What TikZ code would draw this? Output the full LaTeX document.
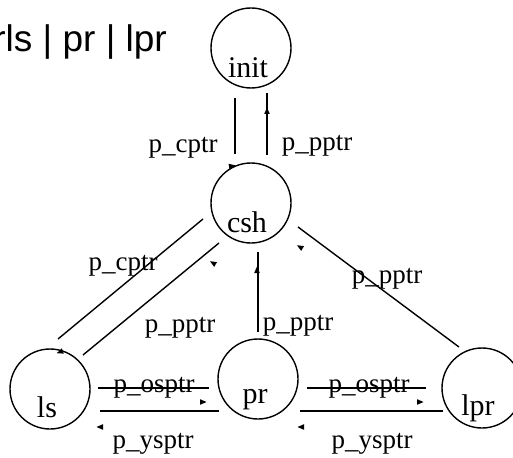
\documentclass[tikz,border=0pt]{standalone}
\usepackage{fontspec}
\setmainfont{Liberation Serif}
\newfontfamily\titlefont{Liberation Sans}
\begin{document}
\begin{tikzpicture}[x=1pt,y=-1pt,
  state/.style={circle,draw,line width=1.4pt,minimum size=80pt,inner sep=0pt},
  conn/.style={line width=1.4pt},
  lbl/.style={font=\fontsize{27}{29}\selectfont,inner sep=0pt,anchor=base},
  stxt/.style={font=\fontsize{30}{32}\selectfont,inner sep=0pt},
  ah/.pic={\fill (3.5,0) -- (-3,2.8) -- (-3,-2.8) -- cycle;}]
\useasboundingbox (0,0) rectangle (513,457);
% title
\node[anchor=base east,inner sep=0pt,font=\titlefont\fontsize{37}{40}\selectfont] (title) at (167,52) {rls | pr | lpr};
% states
\node[state] (init) at (251,48) {};
\node[stxt] (initt) at (248,68) {init};
\node[state] (csh) at (251,203) {};
\node[stxt] (csht) at (247,222) {csh};
\node[state] (ls) at (50,389) {};
\node[stxt] (lst) at (47,407) {ls};
\node[state] (pr) at (258,379) {};
\node[stxt] (prt) at (255,400) {pr};
\node[state] (lpr) at (482,388) {};
\node[stxt] (lprt) at (478,408) {lpr};
% connector end points
\coordinate (a1) at (235,98);  \coordinate (a2) at (235,154);
\coordinate (b1) at (267,155); \coordinate (b2) at (267,93);
\coordinate (c1) at (203,219); \coordinate (c2) at (58,339);
\coordinate (d1) at (83,355);  \coordinate (d2) at (219,243);
\coordinate (e1) at (258,332); \coordinate (e2) at (258,252);
\coordinate (f1) at (459,347); \coordinate (f2) at (298,227);
\coordinate (g1) at (98,388);  \coordinate (g2) at (209,388);
\coordinate (h1) at (219,411); \coordinate (h2) at (100,411);
\coordinate (i1) at (307,388); \coordinate (i2) at (426,388);
\coordinate (j1) at (443,411); \coordinate (j2) at (300,411);
\draw[conn] (a1) -- (a2);
\draw[conn] (b1) -- (b2);
\draw[conn] (c1) -- (c2);
\draw[conn] (d1) -- (d2);
\draw[conn] (e1) -- (e2);
\draw[conn] (f1) -- (f2);
\draw[conn] (g1) -- (g2);
\draw[conn] (h1) -- (h2);
\draw[conn] (i1) -- (i2);
\draw[conn] (j1) -- (j2);
% arrow heads
\pic[rotate=10] at (232,166) {ah};
\pic[rotate=90] at (267,111) {ah};
\pic[rotate=200] at (60,352) {ah};
\pic[rotate=150] at (213,263) {ah};
\pic[rotate=90] at (257,270) {ah};
\pic[rotate=150] at (300,247) {ah};
\pic[rotate=0] at (203,402) {ah};
\pic[rotate=180] at (100,427) {ah};
\pic[rotate=0] at (420,402) {ah};
\pic[rotate=180] at (301,427) {ah};
% labels
\node[lbl] (l1) at (183,153) {p\_cptr};
\node[lbl] (l2) at (317,150) {p\_pptr};
\node[lbl] (l3) at (123,270) {p\_cptr};
\node[lbl] (l4) at (180,332) {p\_pptr};
\node[lbl] (l5) at (298,330) {p\_pptr};
\node[lbl] (l6) at (387,283) {p\_pptr};
\node[lbl] (l7) at (154,392) {p\_osptr};
\node[lbl] (l8) at (369,392) {p\_osptr};
\node[lbl] (l9) at (153,448) {p\_ysptr};
\node[lbl] (l10) at (372,448) {p\_ysptr};
\end{tikzpicture}
\end{document}
